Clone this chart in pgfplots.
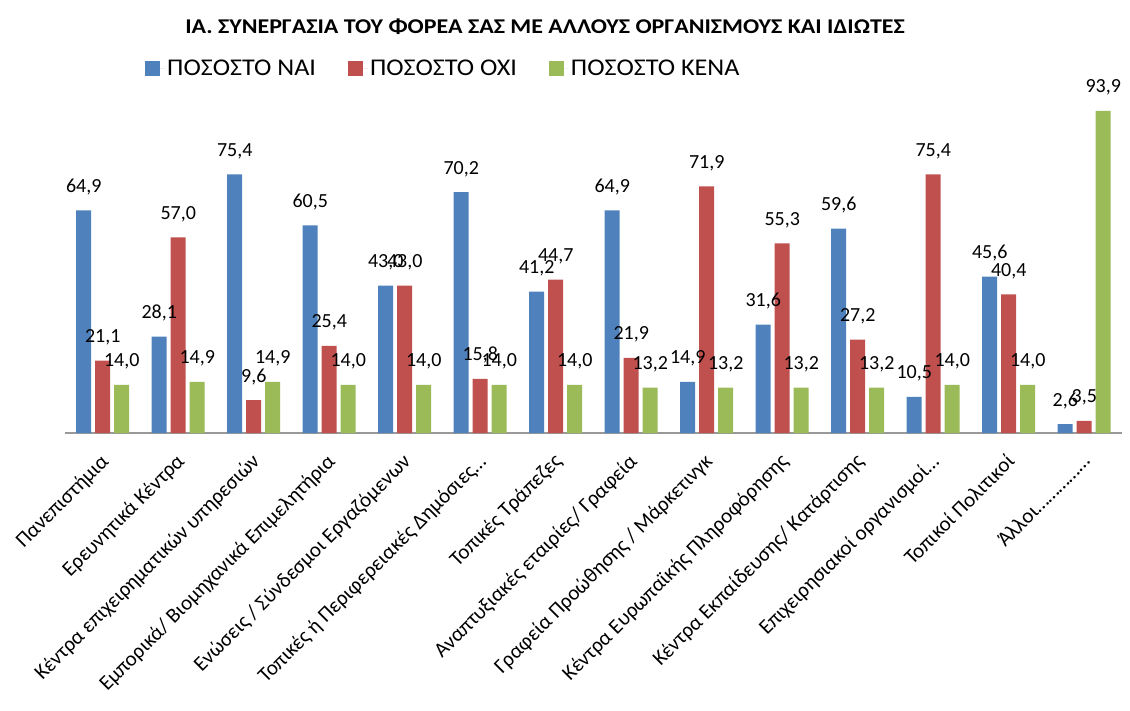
\documentclass[border=0pt]{standalone}
\usepackage{fontspec}
\setmainfont{Carlito}
\usepackage{pgfplots}
\usepackage{pgfplotstable}
\pgfplotsset{compat=1.18}
\definecolor{cblue}{HTML}{4F81BD}
\definecolor{cred}{HTML}{C0504D}
\definecolor{cgreen}{HTML}{9BBB59}

\pgfplotstableread{
x nai oxi kena
0 64.9 21.1 14.0
1 28.1 57.0 14.9
2 75.4 9.6 14.9
3 60.5 25.4 14.0
4 43.0 43.0 14.0
5 70.2 15.8 14.0
6 41.2 44.7 14.0
7 64.9 21.9 13.2
8 14.9 71.9 13.2
9 31.6 55.3 13.2
10 59.6 27.2 13.2
11 10.5 75.4 14.0
12 45.6 40.4 14.0
13 2.6 3.5 93.9
}\datatable

\begin{document}
\begin{tikzpicture}[x=1pt,y=1pt]
\useasboundingbox (0,0) rectangle (1130,710);
\node[font=\bfseries\fontsize{21}{24}\selectfont] at (545,683) {\scalebox{1.14}[1]{ΙΑ. ΣΥΝΕΡΓΑΣΙΑ ΤΟΥ ΦΟΡΕΑ ΣΑΣ ΜΕ ΑΛΛΟΥΣ ΟΡΓΑΝΙΣΜΟΥΣ ΚΑΙ ΙΔΙΩΤΕΣ}};
\begin{axis}[
  at={(65pt,277pt)}, anchor=south west,
  scale only axis, width=1057pt, height=343pt,
  ymin=0, ymax=100, xmin=-0.5, xmax=13.5,
  ybar=4pt, bar width=15pt,
  axis y line=none,
  axis x line*=bottom,
  x axis line style={-, draw=gray!80, line width=1.2pt},
  major tick length=0pt,
  xtick={0,...,13},
  xticklabels={Πανεπιστήμια, Ερευνητικά Κέντρα, Κέντρα επιχειρηματικών υπηρεσιών, Εμπορικά/ Βιομηχανικά Επιμελητήρια, Ενώσεις / Σύνδεσμοι Εργαζόμενων, Τοπικές ή Περιφερειακές Δημόσιες…, Τοπικές Τράπεζες, Αναπτυξιακές εταιρίες/ Γραφεία, Γραφεία Προώθησης / Μάρκετινγκ, Κέντρα Ευρωπαϊκής Πληροφόρησης, Κέντρα Εκπαίδευσης/ Κατάρτισης, Επιχειρησιακοί οργανισμοί…, Τοπικοί Πολιτικοί, Άλλοι……………},
  xticklabel style={rotate=45, anchor=north east, font=\fontsize{21}{21}\selectfont, inner sep=0pt, xshift=-16pt, yshift=-11pt},
  /pgf/number format/assume math mode=true,
  nodes near coords={\pgfmathprintnumber[fixed, fixed zerofill, precision=1, use comma]{\pgfplotspointmeta}},
  nodes near coords style={font=\fontsize{20}{20}\selectfont, anchor=base, inner sep=0pt, yshift=18pt, text=black},
  legend columns=3,
  legend style={at={(0.0757,1.064)}, anchor=west, draw=none, fill=none, inner sep=0pt,
    font=\fontsize{24}{24}\selectfont,
    /tikz/every even column/.append style={column sep=30pt}},
  legend image code/.code={\fill[#1] (0pt,-7.5pt) rectangle (15pt,7.5pt); \path (0pt,0pt) -- (20pt,0pt);},
  clip=false,
]
\addplot[fill=cblue, draw=none] table[x=x, y=nai] {\datatable};
\addplot[fill=cred, draw=none] table[x=x, y=oxi] {\datatable};
\addplot[fill=cgreen, draw=none] table[x=x, y=kena] {\datatable};
\legend{\scalebox{1.09}[1]{ΠΟΣΟΣΤΟ ΝΑΙ}, \scalebox{1.09}[1]{ΠΟΣΟΣΤΟ ΌΧΙ}, \scalebox{1.09}[1]{ΠΟΣΟΣΤΟ ΚΕΝΑ}}
\end{axis}
\end{tikzpicture}
\end{document}
